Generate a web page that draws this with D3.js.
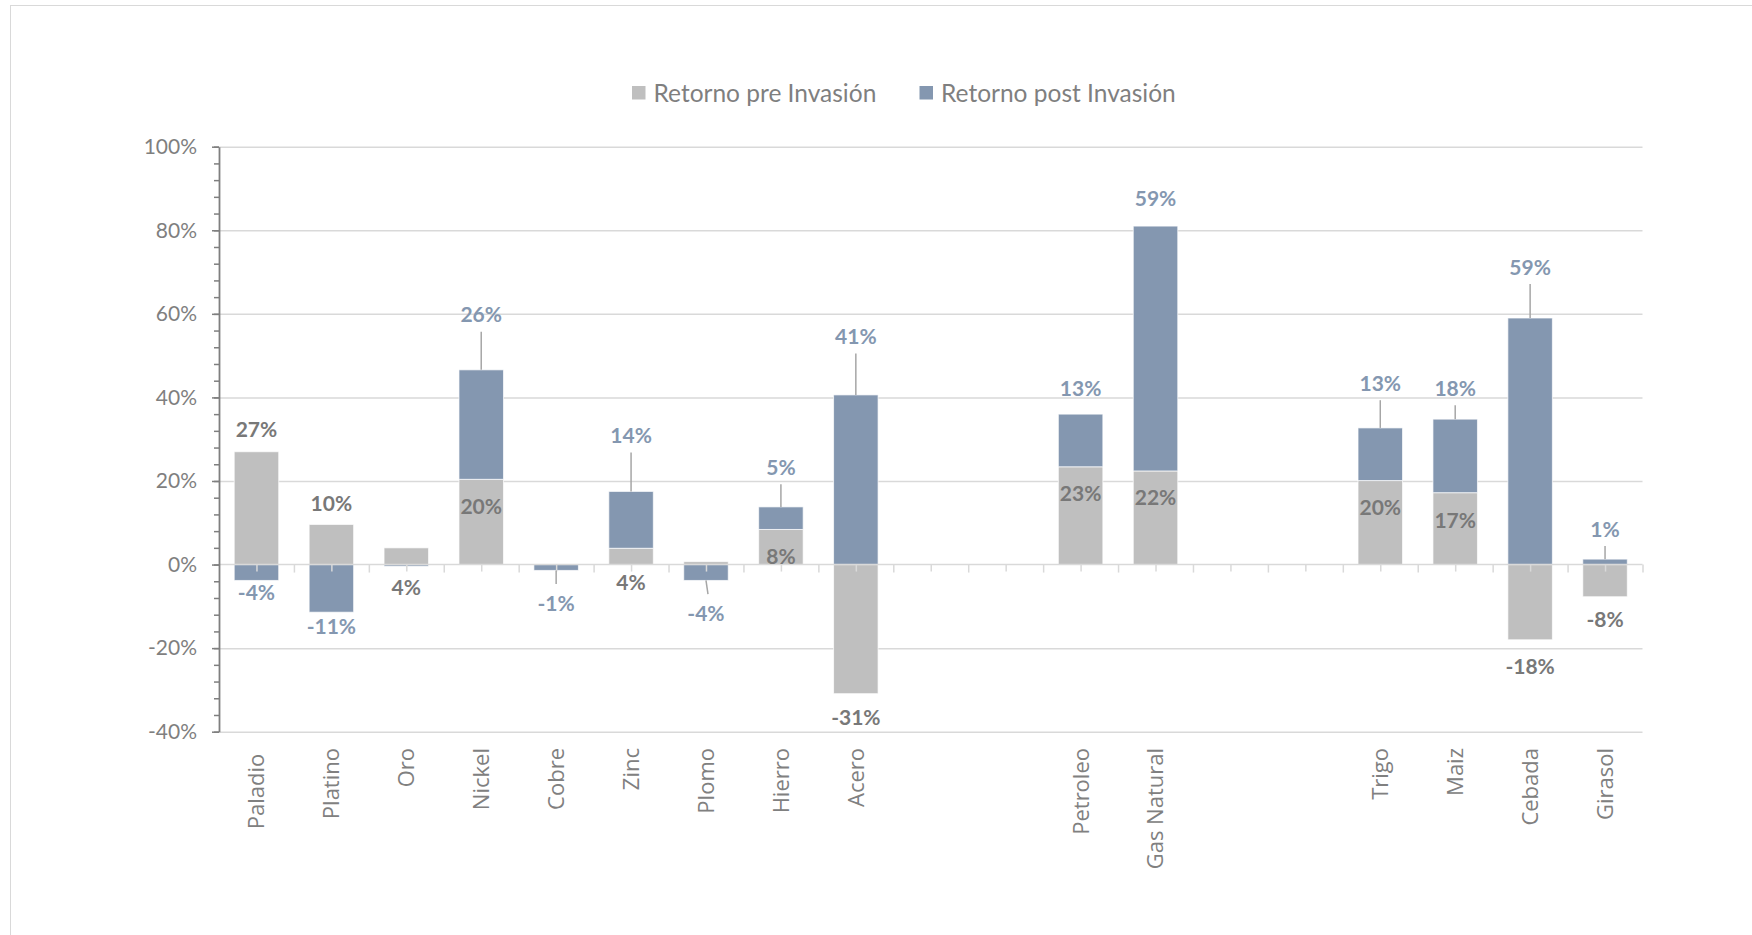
<!DOCTYPE html>
<html>
<head>
<meta charset="utf-8">
<script src="https://cdn.jsdelivr.net/npm/d3@7"></script>
<style>
  html, body { margin: 0; padding: 0; background: #ffffff; }
  svg { display: block; }
</style>
</head>
<body>
<svg id="chart" width="1752" height="935"></svg>
<script>
// ---------- data ----------
const categories = ["Paladio ", "Platino", "Oro", "Nickel", "Cobre", "Zinc", "Plomo", "Hierro", "Acero",
  null, null, "Petroleo", "Gas Natural", null, null, "Trigo", "Maiz", "Cebada", "Girasol"];
const seriesNames = ["Retorno pre Invasión", "Retorno post Invasión"];
const preValues  = [27.0, 9.6, 4.0, 20.4, 0, 3.9, 0.7, 8.4, -30.9, null, null, 23.4, 22.4, null, null, 20.1, 17.2, -18.0, -7.7];
const postValues = [-3.8, -11.4, -0.4, 26.2, -1.4, 13.6, -3.8, 5.4, 40.6, null, null, 12.6, 58.6, null, null, 12.6, 17.6, 59.0, 1.3];
const yTicks = [-40, -20, 0, 20, 40, 60, 80, 100];

// label anchor (value units, where the moved data label sits); null = label not shown
const preLabelAt  = [32.3, 14.6, -5.4, 13.9, null, -4.3, null, 1.9, -36.6, null, null, 17.0, 16.0, null, null, 13.6, 10.6, -24.4, -13.2];
const postLabelAt = [-6.7, -14.8, null, 59.8, -9.2, 30.9, -11.6, 23.3, 54.6, null, null, 42.2, 87.7, null, null, 43.4, 42.2, 71.2, 8.5];

// ---------- layout ----------
const colors = ["#bfbfbf", "#8497b0"];
const labelColors = ["#787878", "#8497b0"];
const plotLeft = 219, plotRight = 1642.5, plotTop = 146.7, plotBottom = 731.7;

const svg = d3.select("#chart");

// outer chart border
svg.append("rect").attr("x", 10.5).attr("y", 5.5).attr("width", 1800).attr("height", 1000)
  .attr("fill", "none").attr("stroke", "#d9d9d9").attr("stroke-width", 1);

const idx = d3.range(categories.length);
const x = d3.scaleBand().domain(idx).range([plotLeft, plotRight]).paddingInner(0.406).paddingOuter(0.203);
const y = d3.scaleLinear().domain([-40, 100]).range([plotBottom, plotTop]);
const slot = d3.scaleLinear().domain([0, categories.length]).range([plotLeft, plotRight]);

// gridlines
svg.append("g").attr("transform", `translate(${plotLeft},0)`)
  .call(d3.axisLeft(y).tickValues(yTicks.filter(v => v !== 0)).tickSize(-(plotRight - plotLeft)).tickFormat(""))
  .call(g => g.select(".domain").remove())
  .call(g => g.selectAll(".tick line").attr("stroke", "#d9d9d9").attr("stroke-width", 1.5));

// stacked bars
const rows = idx.map(i => ({ i, pre: preValues[i] || 0, post: postValues[i] || 0 }));
const stack = d3.stack().keys(["pre", "post"]).offset(d3.stackOffsetDiverging);
const stacked = stack(rows);

svg.append("g").selectAll("g").data(stacked).join("g")
  .attr("fill", (d, k) => colors[k])
  .selectAll("rect").data(d => d.filter(p => p[0] !== p[1])).join("rect")
  .attr("x", p => x(p.data.i))
  .attr("width", x.bandwidth())
  .attr("y", p => y(Math.max(p[0], p[1])))
  .attr("height", p => Math.abs(y(p[0]) - y(p[1])))
  .attr("stroke", "#ffffff").attr("stroke-opacity", 0.7).attr("stroke-width", 1);

// zero line with category ticks (boundaries and centres)
const zeroY = y(0);
svg.append("line").attr("x1", plotLeft).attr("x2", plotRight).attr("y1", zeroY).attr("y2", zeroY)
  .attr("stroke", "#d9d9d9").attr("stroke-width", 1.5);
svg.append("g").attr("transform", `translate(0,${zeroY})`)
  .call(d3.axisBottom(slot).tickValues(d3.range(1, categories.length + 1)).tickSize(8).tickFormat(""))
  .call(g => g.select(".domain").remove())
  .call(g => g.selectAll(".tick line").attr("stroke", "#d9d9d9").attr("stroke-width", 1.5));
svg.append("g").attr("transform", `translate(0,${zeroY})`)
  .call(d3.axisBottom(slot).tickValues(idx.map(i => i + 0.5)).tickSize(7).tickFormat(""))
  .call(g => g.select(".domain").remove())
  .call(g => g.selectAll(".tick line").attr("stroke", "#d9d9d9").attr("stroke-width", 1.5));

// y axis: minor ticks, then major ticks + labels
svg.append("g").attr("transform", `translate(${plotLeft},0)`)
  .call(d3.axisLeft(y).tickValues(d3.range(-40, 101, 4)).tickSize(5).tickSizeOuter(0).tickFormat(""))
  .call(g => g.select(".domain").remove())
  .call(g => g.selectAll(".tick line").attr("stroke", "#7f7f7f").attr("stroke-width", 1.5));
svg.append("g").attr("transform", `translate(${plotLeft},0)`)
  .call(d3.axisLeft(y).tickValues(yTicks).tickSize(7).tickSizeOuter(0).tickPadding(15).tickFormat(d => d + "%"))
  .call(g => g.select(".domain").attr("stroke", "#7f7f7f").attr("stroke-width", 1.8))
  .call(g => g.selectAll(".tick line").attr("stroke", "#7f7f7f").attr("stroke-width", 1.5))
  .call(g => g.selectAll(".tick text").attr("fill", "#7f7f7f")
    .attr("font-family", "Lato, 'Open Sans', sans-serif").attr("font-size", 21));

// category labels (rotated)
svg.append("g").selectAll("text").data(idx.filter(i => categories[i])).join("text")
  .attr("transform", i => `translate(${x(i) + x.bandwidth() / 2},748) rotate(-90)`)
  .attr("text-anchor", "end").attr("dy", "0.36em")
  .attr("xml:space", "preserve").style("white-space", "pre")
  .attr("font-family", "'Open Sans', sans-serif").attr("font-size", 22).attr("fill", "#808080")
  .text(i => categories[i]);

// data labels + leader lines
const labelSets = [
  { vals: preValues, at: preLabelAt, k: 0 },
  { vals: postValues, at: postLabelAt, k: 1 }
];
const leaderG = svg.append("g");
const labelG = svg.append("g");
labelSets.forEach(set => {
  const items = idx.filter(i => set.at[i] !== null && set.vals[i] !== null);
  items.forEach(i => {
    const cx = x(i) + x.bandwidth() / 2;
    const ly = y(set.at[i]);
    const seg = stacked[set.k][i];
    const endVal = set.vals[i] >= 0 ? Math.max(seg[0], seg[1]) : Math.min(seg[0], seg[1]);
    const barEnd = y(endVal);
    if (set.k === 1) {
      const up = ly < barEnd;
      const start = up ? ly + 17 : ly - 19;
      const gap = up ? barEnd - start : start - barEnd;
      if (gap > 11) {
        leaderG.append("line").attr("x1", cx).attr("x2", cx + (i === 6 ? 2 : 0))
          .attr("y1", barEnd).attr("y2", start)
          .attr("stroke", "#a6a6a6").attr("stroke-width", 1.5);
      }
    }
    labelG.append("text").attr("x", cx).attr("y", ly).attr("dy", "0.36em")
      .attr("text-anchor", "middle")
      .attr("font-family", "Lato, 'Open Sans', sans-serif").attr("font-weight", "bold")
      .attr("font-size", 21).attr("fill", labelColors[set.k])
      .text(Math.round(set.vals[i]) + "%");
  });
});

// legend
const legend = svg.append("g");
const legendX = [632, 919.5];
seriesNames.forEach((name, k) => {
  legend.append("rect").attr("x", legendX[k]).attr("y", 86).attr("width", 13.5).attr("height", 13.5)
    .attr("fill", colors[k]);
  legend.append("text").attr("x", legendX[k] + 21.5).attr("y", 92.7).attr("dy", "0.36em")
    .attr("font-family", "Lato, 'Open Sans', sans-serif").attr("font-size", 24.5).attr("fill", "#7f7f7f")
    .text(name);
});
</script>
</body>
</html>
